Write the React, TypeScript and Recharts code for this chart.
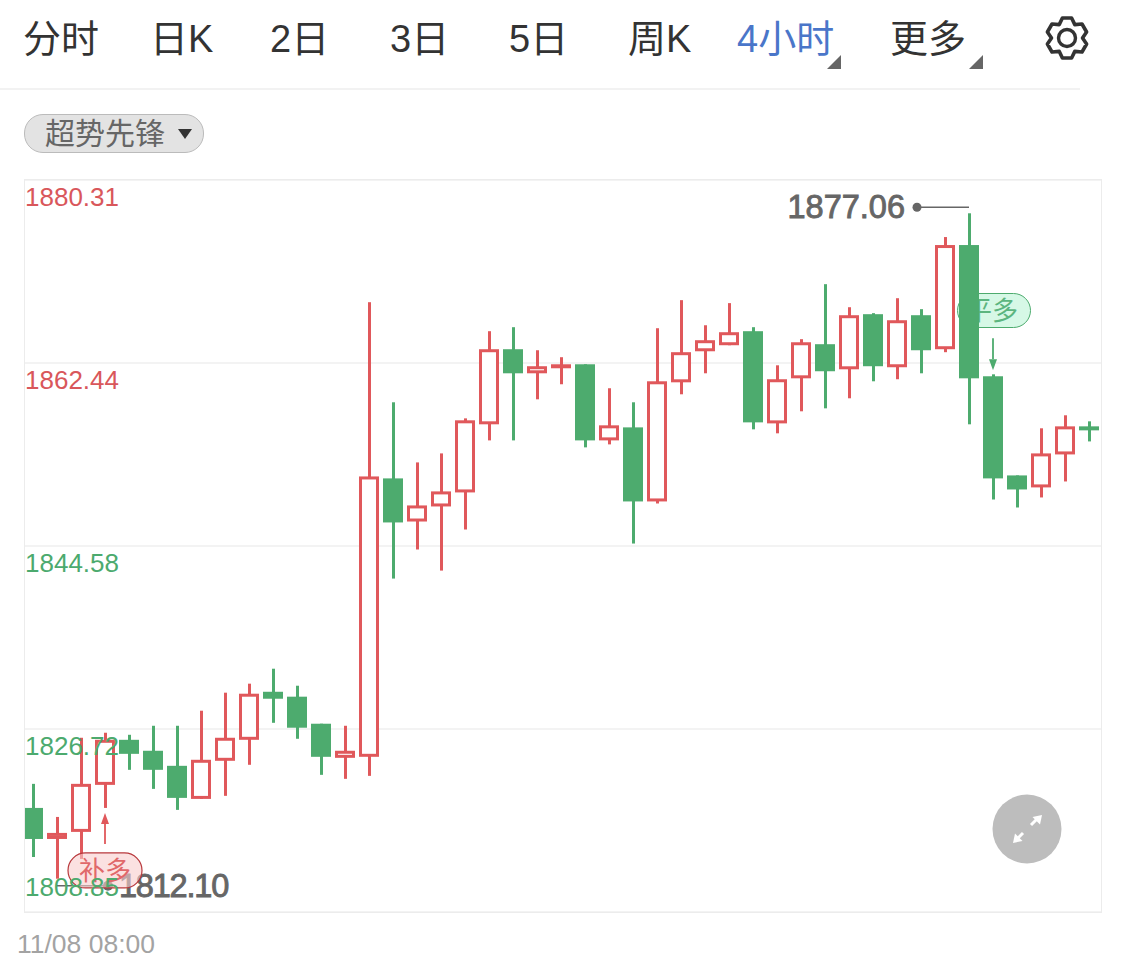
import { Bar, CartesianGrid, ComposedChart, ReferenceDot, XAxis, YAxis } from "recharts";

const tabs = ["分时", "日K", "2日", "3日", "5日", "周K", "4小时", "更多"];
const tabLeft = [23, 150, 270, 390, 509, 628, 737, 890];
const activeTab = "4小时";
const indicator = "超势先锋";
const startTime = "11/08 08:00";

const opens = [
  1819.01, 1815.98, 1816.67, 1821.26, 1825.66, 1824.59, 1823.12, 1819.89, 1823.61, 1825.66, 1830.35, 1829.87,
  1827.23, 1823.9, 1824.0, 1851.18, 1846.97, 1848.44, 1849.81, 1856.46, 1863.79, 1861.44, 1861.93, 1862.32,
  1854.89, 1856.16, 1848.93, 1860.56, 1863.59, 1864.18, 1865.55, 1856.55, 1860.95, 1864.28, 1861.83, 1867.21,
  1862.03, 1867.11, 1863.79, 1873.96, 1861.15, 1851.47, 1850.3, 1853.52, 1856.26
];
const closes = [
  1815.98, 1816.57, 1821.36, 1825.66, 1824.29, 1822.73, 1819.99, 1823.71, 1825.86, 1830.16, 1829.67, 1826.84,
  1824.0, 1824.59, 1851.37, 1846.88, 1848.54, 1849.91, 1856.85, 1863.79, 1861.44, 1862.13, 1862.32, 1854.89,
  1856.36, 1848.93, 1860.66, 1863.5, 1864.67, 1865.45, 1856.65, 1860.86, 1864.47, 1861.64, 1867.11, 1862.13,
  1866.62, 1863.69, 1873.96, 1860.95, 1851.18, 1850.1, 1853.62, 1856.26, 1855.87
];
const highs = [
  1821.36, 1818.13, 1825.86, 1826.35, 1826.15, 1827.03, 1827.03, 1828.5, 1830.26, 1831.14, 1832.6, 1830.94,
  1827.23, 1827.03, 1868.38, 1858.61, 1852.74, 1853.62, 1857.04, 1865.55, 1865.94, 1863.69, 1863.01, 1862.32,
  1859.98, 1858.61, 1865.84, 1868.58, 1866.13, 1868.29, 1865.94, 1862.22, 1864.77, 1870.14, 1867.89, 1867.31,
  1868.77, 1867.7, 1874.74, 1877.06, 1861.34, 1851.47, 1856.07, 1857.34, 1856.75
];
const lows = [
  1814.22, 1812.1, 1814.03, 1819.01, 1822.73, 1820.87, 1818.82, 1819.89, 1820.19, 1823.22, 1827.32, 1825.76,
  1822.24, 1821.85, 1822.14, 1841.4, 1844.24, 1842.18, 1846.19, 1854.89, 1854.89, 1858.9, 1860.37, 1854.21,
  1854.5, 1844.82, 1848.73, 1859.39, 1861.44, 1864.18, 1855.97, 1855.58, 1857.73, 1858.02, 1859.0, 1860.66,
  1860.86, 1861.44, 1863.5, 1856.46, 1849.12, 1848.34, 1849.32, 1850.88, 1854.79
];
const priceTicks = [1880.31, 1862.44, 1844.58, 1826.72, 1808.85];
const tickColors = ["#d9575b", "#d9575b", "#4caa6e", "#4caa6e", "#4caa6e"];

const RED = "#e0585b";
const GREEN = "#4dab6e";
const LABEL = "#666666";
const SANS = '"Liberation Sans", "Noto Sans CJK SC", sans-serif';

const candles = opens.map((open, index) => ({
  index,
  open,
  close: closes[index],
  high: highs[index],
  low: lows[index]
}));

function candleColor(d: any) {
  return d.close >= d.open ? RED : GREEN;
}

function Wick(props: any) {
  const { x, y, width, height, payload } = props;
  return <rect x={x} y={y} width={width} height={height} fill={candleColor(payload)} />;
}

function Body(props: any) {
  const { x, y, width, height, payload } = props;
  const h = Math.abs(height);
  const top = height < 0 ? y + height : y;
  if (payload.close < payload.open) {
    return <rect x={x} y={top} width={width} height={h} fill={GREEN} />;
  }
  return (
    <rect
      x={x + 1.5}
      y={top + 1.5}
      width={width - 3}
      height={Math.max(h - 3, 0)}
      fill="#fff"
      stroke={RED}
      strokeWidth={3}
    />
  );
}

function PriceTick(props: any) {
  const { y, payload, index } = props;
  const last = index === priceTicks.length - 1;
  return (
    <text x={25} y={last ? y - 16 : y + 26} fontSize={26} fontFamily={SANS} fill={tickColors[index]}>
      {payload.value.toFixed(2)}
    </text>
  );
}

function TimeTick(props: any) {
  const { y } = props;
  return (
    <text x={17} y={y + 33} fontSize={26.5} fontFamily={SANS} fill="#a3a3a3">
      {startTime}
    </text>
  );
}

function HighMark(props: any) {
  const { cx, cy } = props;
  return (
    <g>
      <line x1={cx - 52} y1={cy - 6} x2={cx} y2={cy - 6} stroke={LABEL} strokeWidth={1.5} />
      <circle cx={cx - 52} cy={cy - 6} r={4.5} fill={LABEL} />
      <text x={cx - 64} y={cy + 5} textAnchor="end" fontSize={32.5} fontFamily={SANS} fill={LABEL} stroke={LABEL} strokeWidth={0.9}>
        {highs[39].toFixed(2)}
      </text>
    </g>
  );
}

function LowMark(props: any) {
  const { cx, cy } = props;
  return (
    <g>
      <line x1={cx} y1={cy + 7} x2={cx + 51} y2={cy + 7} stroke={LABEL} strokeWidth={1.5} />
      <circle cx={cx + 51} cy={cy + 7} r={5} fill={LABEL} />
      <text
        x={cx + 62}
        y={cy + 18}
        fontSize={32.5}
        letterSpacing={-1.2}
        fontFamily={SANS}
        fill={LABEL}
        stroke={LABEL}
        strokeWidth={0.9}
      >
        {lows[1].toFixed(2)}
      </text>
    </g>
  );
}

function BuyMark(props: any) {
  const { cx, cy } = props;
  return (
    <g>
      <line x1={cx} y1={cy + 15} x2={cx} y2={cy + 36} stroke={RED} strokeWidth={1.8} />
      <path d={`M${cx} ${cy + 5}l4 11h-8z`} fill={RED} />
      <rect x={cx - 37} y={cy + 45} width={74} height={35} rx={17.5} fill="rgba(248,205,205,0.6)" stroke="#b8383c" strokeWidth={1.2} />
      <text x={cx} y={cy + 72} textAnchor="middle" fontSize={26} fontFamily={SANS} fill="#e0686a">
        补多
      </text>
    </g>
  );
}

function SellArrow(props: any) {
  const { cx, cy } = props;
  return (
    <g>
      <line x1={cx} y1={cy - 36} x2={cx} y2={cy - 15} stroke={GREEN} strokeWidth={1.8} />
      <path d={`M${cx} ${cy - 4}l-4 -11h8z`} fill={GREEN} />
    </g>
  );
}

function CandleChart() {
  return (
    <ComposedChart
      width={1125}
      height={969}
      data={candles}
      margin={{ top: 180, right: 24, bottom: 0, left: 21 }}
      style={{ position: "absolute", left: 0, top: 0 }}
    >
      <CartesianGrid vertical={false} stroke="#efefef" strokeWidth={1.5} yAxisId="price" xAxisId="body" />
      <XAxis xAxisId="wick" dataKey="index" type="category" hide />
      <XAxis
        xAxisId="body"
        dataKey="index"
        type="category"
        height={57}
        ticks={[0]}
        interval={0}
        axisLine={false}
        tickLine={false}
        tick={<TimeTick />}
      />
      <YAxis
        yAxisId="price"
        type="number"
        domain={[priceTicks[4], priceTicks[0]]}
        ticks={priceTicks}
        interval={0}
        width={80}
        mirror
        axisLine={false}
        tickLine={false}
        tick={<PriceTick />}
      />
      <Bar
        xAxisId="wick"
        yAxisId="price"
        dataKey={(d: any) => [d.low, d.high]}
        barSize={3}
        shape={<Wick />}
        isAnimationActive={false}
      />
      <Bar
        xAxisId="body"
        yAxisId="price"
        dataKey={(d: any) => [d.open, d.close]}
        barSize={20}
        shape={<Body />}
        isAnimationActive={false}
      />
      <ReferenceDot xAxisId="body" yAxisId="price" x={39} y={highs[39]} shape={<HighMark />} />
      <ReferenceDot xAxisId="body" yAxisId="price" x={1} y={lows[1]} shape={<LowMark />} />
      <ReferenceDot xAxisId="body" yAxisId="price" x={3} y={lows[3]} shape={<BuyMark />} />
      <ReferenceDot xAxisId="body" yAxisId="price" x={40} y={highs[40]} shape={<SellArrow />} />
    </ComposedChart>
  );
}

function Gear() {
  const teeth = [-90, -30, 30, 90, 150, 210];
  const pts: string[] = [];
  teeth.forEach((a) => {
    [
      [15.5, -30],
      [20.5, -13],
      [20.5, 13],
      [15.5, 30]
    ].forEach(([r, da]) => {
      const t = ((a + da) * Math.PI) / 180;
      pts.push(`${(22 + r * Math.cos(t)).toFixed(1)},${(22 + r * Math.sin(t)).toFixed(1)}`);
    });
  });
  return (
    <svg width={46} height={46} viewBox="-1 -1 46 46" style={{ position: "absolute", left: 1044, top: 15 }}>
      <polygon points={pts.join(" ")} fill="none" stroke="#333" strokeWidth={3.6} strokeLinejoin="round" />
      <circle cx={22} cy={22} r={8.5} fill="none" stroke="#333" strokeWidth={3.4} />
    </svg>
  );
}

function Corner({ left }: { left: number }) {
  return (
    <svg width={16} height={16} style={{ position: "absolute", left, top: 54 }}>
      <path d="M15 1V15H1z" fill="#666" />
    </svg>
  );
}

function ExpandButton() {
  return (
    <svg width={70} height={70} style={{ position: "absolute", left: 992, top: 794 }}>
      <circle cx={35} cy={35} r={34.5} fill="#bdbdbd" />
      <path d="M39 31L46 24" stroke="#fff" strokeWidth={3} />
      <path d="M50 21l-9.5 2 7.5 7.5z" fill="#fff" />
      <path d="M31 39L24 46" stroke="#fff" strokeWidth={3} />
      <path d="M21 49l9.5 -2 -7.5 -7.5z" fill="#fff" />
    </svg>
  );
}

export default function App() {
  return (
    <div style={{ position: "absolute", left: 0, top: 0, width: 1125, height: 969, background: "#fff", overflow: "hidden", fontFamily: SANS }}>
      {tabs.map((t, i) => (
        <span
          key={t}
          style={{
            position: "absolute",
            left: tabLeft[i],
            top: 16,
            fontSize: 38,
            lineHeight: "46px",
            whiteSpace: "nowrap",
            color: t === activeTab ? "#4a76c9" : "#333"
          }}
        >
          {t}
        </span>
      ))}
      <Corner left={826} />
      <Corner left={968} />
      <Gear />
      <div style={{ position: "absolute", left: 0, top: 88, width: 1080, height: 2, background: "#f2f2f2" }} />

      <div
        style={{
          position: "absolute",
          left: 24,
          top: 114,
          width: 178,
          height: 37,
          borderRadius: 19,
          border: "1px solid #bbb",
          background: "#e3e3e3"
        }}
      />
      <span style={{ position: "absolute", left: 45, top: 116, fontSize: 30, lineHeight: "36px", color: "#666" }}>{indicator}</span>
      <svg width={16} height={12} style={{ position: "absolute", left: 177, top: 128 }}>
        <path d="M1 1H15L8 11z" fill="#333" />
      </svg>

      <div
        style={{
          position: "absolute",
          left: 957,
          top: 293,
          width: 72,
          height: 33,
          borderRadius: 18,
          border: "1.2px solid #4dab6e",
          background: "#d6f8e6"
        }}
      />
      <span style={{ position: "absolute", left: 966, top: 295, fontSize: 26, lineHeight: "33px", color: "#5cb57f" }}>平多</span>

      <CandleChart />

      <div style={{ position: "absolute", left: 0, top: 178, width: 24, height: 736, background: "#fff" }} />
      <div style={{ position: "absolute", left: 24, top: 179, width: 1076, height: 732, border: "1.5px solid #ececec" }} />
      <ExpandButton />
    </div>
  );
}
